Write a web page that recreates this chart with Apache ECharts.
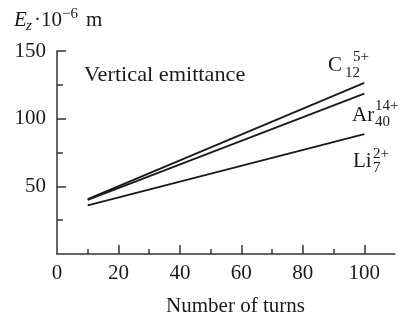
<!DOCTYPE html>
<html>
<head>
<meta charset="utf-8">
<script src="https://cdn.jsdelivr.net/npm/echarts@6/dist/echarts.min.js"></script>
<style>
html,body{margin:0;padding:0;background:#fff;}
#chart{width:401px;height:322px;}
</style>
</head>
<body>
<div id="chart"></div>
<script>
// ---- data ----
var turns = [10, 100];
var c12 = [40.5, 126.5];
var ar40 = [40, 118.5];
var li7 = [36, 88.5];
var xMajorTicks = [20, 40, 60, 80, 100];
var xMinorTicks = [10, 30, 50, 70, 90];
var xTickLabels = [0, 20, 40, 60, 80, 100];
var yMajorTicks = [50, 100, 150];
var yMinorTicks = [25, 75, 125];
var yTickLabels = [50, 100, 150];
var titleText = 'Vertical emittance';
var xName = 'Number of turns';

var FONT = '"Liberation Serif", "Times New Roman", serif';
var INK = '#1a1a1a';

function pairs(xs, ys) { return xs.map(function (x, i) { return [x, ys[i]]; }); }

var chart = echarts.init(document.getElementById('chart'));

function txt(x, y, s, size, italic, sx) {
  return {
    type: 'text', x: x, y: y - size / 2, scaleX: sx || 1,
    style: { text: s, fontFamily: FONT, fontSize: size, fontStyle: italic ? 'italic' : 'normal', fill: INK }
  };
}

var lineStyle = { color: INK, width: 1.8 };
var axisLine = { show: true, lineStyle: { color: '#333', width: 1.5 } };

chart.setOption({
  animation: false,
  backgroundColor: '#fff',
  grid: { left: 57, right: 6, top: 51, bottom: 59 },
  xAxis: [{
    type: 'value', min: 0, max: 110,
    axisLine: axisLine,
    axisTick: { show: true, inside: true, length: 9, customValues: xMajorTicks, lineStyle: { color: '#333', width: 1.5 } },
    axisLabel: { customValues: xTickLabels, margin: 9, fontFamily: FONT, fontSize: 21, color: INK },
    splitLine: { show: false },
    name: xName, nameLocation: 'middle', nameGap: 42,
    nameTextStyle: { fontFamily: FONT, fontSize: 21, color: INK, padding: [0, 0, 0, 19] }
  }, {
    type: 'value', min: 0, max: 110, position: 'bottom',
    axisLine: { show: false },
    axisTick: { show: true, inside: true, length: 5, customValues: xMinorTicks, lineStyle: { color: '#333', width: 1.5 } },
    axisLabel: { show: false }, splitLine: { show: false }
  }],
  yAxis: [{
    type: 'value', min: 0, max: 150,
    axisLine: axisLine,
    axisTick: { show: true, inside: true, length: 9, customValues: yMajorTicks, lineStyle: { color: '#333', width: 1.5 } },
    axisLabel: { customValues: yTickLabels, margin: 11, fontFamily: FONT, fontSize: 21, color: INK },
    splitLine: { show: false }
  }, {
    type: 'value', min: 0, max: 150, position: 'left',
    axisLine: { show: false },
    axisTick: { show: true, inside: true, length: 6, customValues: yMinorTicks, lineStyle: { color: '#333', width: 1.5 } },
    axisLabel: { show: false }, splitLine: { show: false }
  }],
  series: [
    { name: 'C12 5+', type: 'line', data: pairs(turns, c12), symbol: 'none', lineStyle: lineStyle, xAxisIndex: 0, yAxisIndex: 0 },
    { name: 'Ar40 14+', type: 'line', data: pairs(turns, ar40), symbol: 'none', lineStyle: lineStyle, xAxisIndex: 0, yAxisIndex: 0 },
    { name: 'Li7 2+', type: 'line', data: pairs(turns, li7), symbol: 'none', lineStyle: lineStyle, xAxisIndex: 0, yAxisIndex: 0 }
  ],
  graphic: [
    // y axis name: E_z·10^-6 m
    txt(14, 20, 'E', 21, true),
    txt(26, 26, 'z', 15, true),
    txt(34, 20.5, '\u00b710', 21, false),
    txt(62, 14, '\u22126', 15, false),
    txt(86, 20.5, 'm', 21, false),
    // title
    txt(84, 75, titleText, 21, false, 1.06),
    // C_12^5+
    txt(328, 65, 'C', 21, false),
    txt(353, 57, '5+', 15, false),
    txt(345, 73, '12', 15, false),
    // Ar_40^14+
    txt(352, 115, 'Ar', 21, false),
    txt(375, 106, '14+', 15, false),
    txt(375, 122, '40', 15, false),
    // Li_7^2+
    txt(353, 161, 'Li', 21, false),
    txt(373, 154, '2+', 15, false),
    txt(373, 168, '7', 15, false)
  ]
});
</script>
</body>
</html>
